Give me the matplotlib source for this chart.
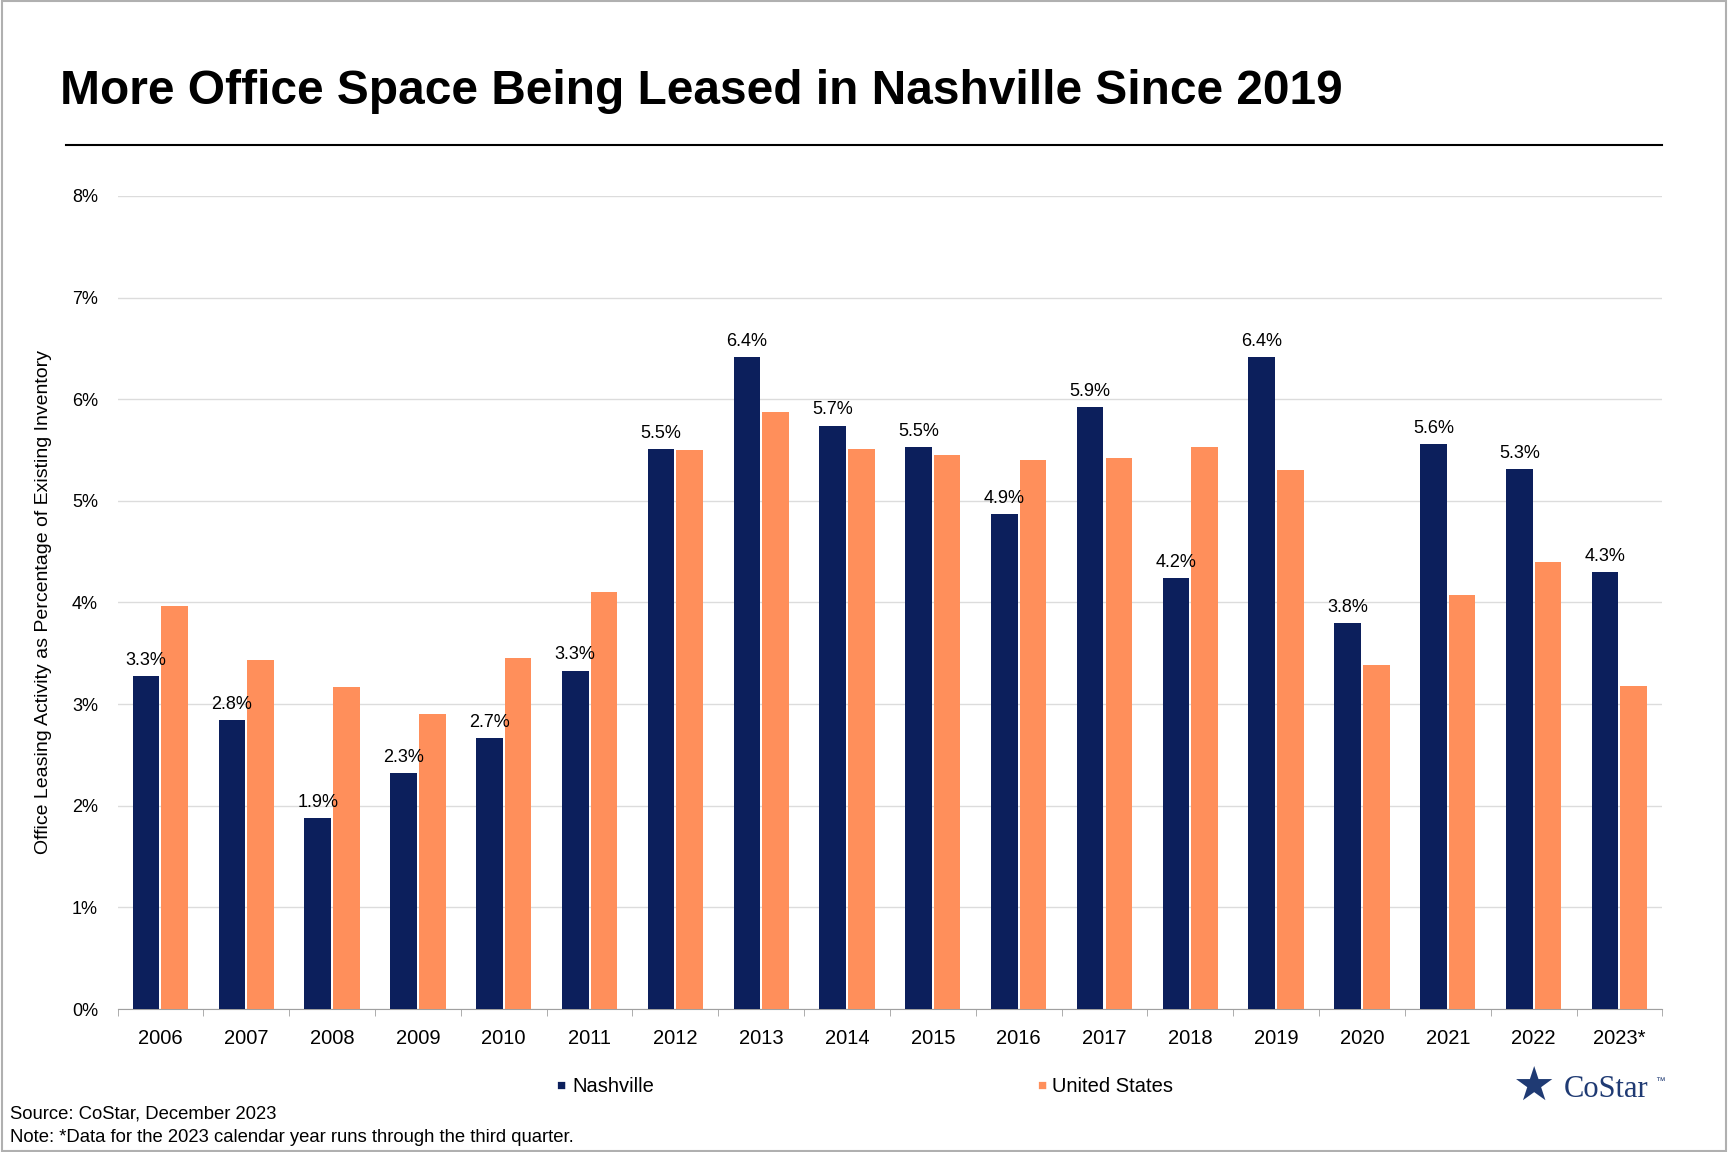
import matplotlib.pyplot as plt
import numpy as np
from matplotlib.lines import Line2D

years = ['2006', '2007', '2008', '2009', '2010', '2011', '2012', '2013', '2014',
         '2015', '2016', '2017', '2018', '2019', '2020', '2021', '2022', '2023*']
nashville = [3.28, 2.84, 1.88, 2.32, 2.67, 3.33, 5.51, 6.41, 5.74,
             5.53, 4.87, 5.92, 4.24, 6.41, 3.80, 5.56, 5.31, 4.30]
us = [3.97, 3.43, 3.17, 2.90, 3.45, 4.10, 5.50, 5.87, 5.51,
      5.45, 5.40, 5.42, 5.53, 5.30, 3.39, 4.07, 4.40, 3.18]

NAVY = '#0c1f5c'
ORANGE = '#ff8f5b'

plt.rcParams['font.family'] = ['Liberation Sans', 'DejaVu Sans']
fig = plt.figure(figsize=(17.28, 11.52), dpi=100)
fig.patches.append(plt.Rectangle((0.001, 0.001), 0.998, 0.998, transform=fig.transFigure,
                                 fill=False, edgecolor='#b0b0b0', linewidth=1.5))
ax = fig.add_axes([0.068, 0.124, 0.894, 0.706])

x = np.arange(len(years))
ax.bar(x - 0.167, nashville, width=0.31, color=NAVY, zorder=3)
ax.bar(x + 0.167, us, width=0.31, color=ORANGE, zorder=3)
for xi, v in zip(x, nashville):
    ax.text(xi - 0.167, v + 0.07, f'{v:.1f}%', ha='center', va='bottom', fontsize=13)

ax.set_xlim(-0.5, len(years) - 0.5)
ax.set_ylim(0, 8)
ax.set_yticks(range(0, 9))
ax.set_yticklabels([f'{i}%' for i in range(0, 9)], fontsize=13)
ax.set_xticks(x)
ax.set_xticklabels(years, fontsize=14.5)
ax.set_xticks(np.arange(-0.5, len(years)), minor=True)
ax.tick_params(axis='x', which='major', length=0, pad=14)
ax.tick_params(axis='x', which='minor', length=5, color='#a0a0a0')
ax.tick_params(axis='y', length=0, pad=14)
ax.grid(axis='y', color='#dcdcdc', linewidth=1, zorder=0)
for s in ['top', 'right', 'left']:
    ax.spines[s].set_visible(False)
ax.spines['bottom'].set_color('#a0a0a0')
ax.set_ylabel('Office Leasing Activity as Percentage of Existing Inventory', fontsize=14, labelpad=14)

fig.text(0.035, 0.921, 'More Office Space Being Leased in Nashville Since 2019',
         fontsize=34.5, fontweight='bold', va='center')
fig.add_artist(Line2D([0.038, 0.962], [0.874, 0.874], color='black', linewidth=1.5))

fig.text(0.322, 0.057, '\u25a0', color=NAVY, fontsize=11, va='center')
fig.text(0.331, 0.057, 'Nashville', fontsize=14.5, va='center')
fig.text(0.600, 0.057, '\u25a0', color=ORANGE, fontsize=11, va='center')
fig.text(0.609, 0.057, 'United States', fontsize=14.5, va='center')

fig.text(0.006, 0.033, 'Source: CoStar, December 2023', fontsize=13.3, va='center')
fig.text(0.006, 0.013, 'Note: *Data for the 2023 calendar year runs through the third quarter.',
         fontsize=13.3, va='center')

fig.text(0.888, 0.055, '\u2605', color='#1f3a73', fontsize=34, va='center', ha='center')
fig.text(0.905, 0.054, 'CoStar', fontsize=22, family=['Liberation Serif', 'DejaVu Serif'],
         color='#1f3a73', va='center')
fig.text(0.958, 0.062, '\u2122', fontsize=7, color='#1f3a73', va='center')

fig.savefig('out.png', dpi=100)
